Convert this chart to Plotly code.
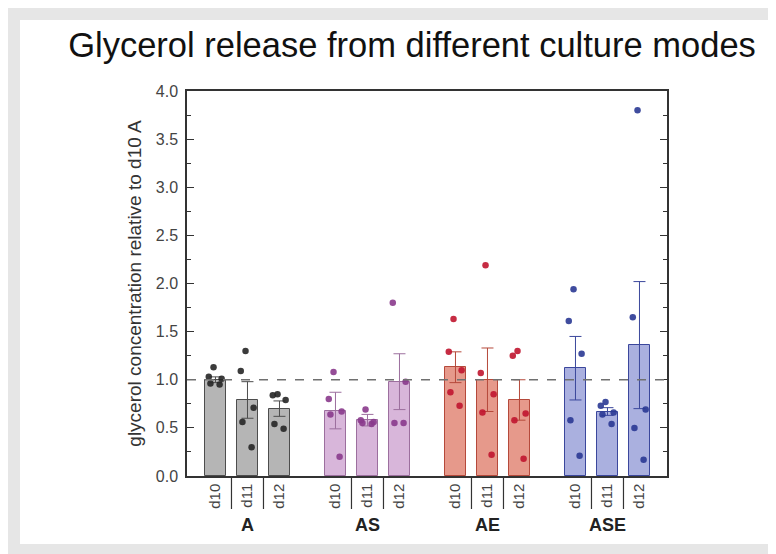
import plotly.graph_objects as go

groups = ["A", "AS", "AE", "ASE"]
days = ["d10", "d11", "d12"]

mean_A = [1.00, 0.79, 0.70]
mean_AS = [0.68, 0.58, 0.98]
mean_AE = [1.13, 1.00, 0.79]
mean_ASE = [1.12, 0.67, 1.36]

sem_A = [0.03, 0.19, 0.08]
sem_AS = [0.19, 0.06, 0.29]
sem_AE = [0.16, 0.33, 0.21]
sem_ASE = [0.33, 0.04, 0.66]

pts_A = [[1.13, 1.03, 1.01, 0.95, 0.96], [1.30, 1.09, 0.71, 0.56, 0.30], [0.84, 0.85, 0.79, 0.54, 0.49]]
pts_AS = [[1.08, 0.80, 0.67, 0.64, 0.20], [0.69, 0.58, 0.56, 0.54, 0.55], [1.80, 0.98, 0.55, 0.55]]
pts_AE = [[1.63, 1.29, 1.10, 0.87, 0.73], [2.19, 1.07, 0.85, 0.66, 0.22], [1.30, 1.25, 0.65, 0.58, 0.18]]
pts_ASE = [[1.94, 1.61, 1.27, 0.58, 0.21], [0.77, 0.73, 0.66, 0.64, 0.54], [3.80, 1.65, 0.69, 0.50, 0.17]]

yticks = [0.0, 0.5, 1.0, 1.5, 2.0, 2.5, 3.0, 3.5, 4.0]

means = [mean_A, mean_AS, mean_AE, mean_ASE]
sems = [sem_A, sem_AS, sem_AE, sem_ASE]
points = [pts_A, pts_AS, pts_AE, pts_ASE]

fills = ["#b5b5b5", "#d8b6da", "#e6998b", "#aab0df"]
edges = ["#4d4d4d", "#9c6f9e", "#b5493b", "#3b479c"]
dots = ["#262626", "#8a3a8c", "#c0152f", "#2a3894"]

W, H = 776, 554
L, R, T, B = 179, 659, 83, 468
GSTEP = 3.75


def px_x(px):
    return (px - L) / (R - L)


def px_y(py):
    return (B - py) / (B - T)


fig = go.Figure()
tickvals, ticktext = [], []
for g, name in enumerate(groups):
    xs = [1 + g * GSTEP + i for i in range(len(days))]
    tickvals += xs
    ticktext += days
    fig.add_trace(go.Bar(
        x=xs, y=means[g], width=0.66,
        marker=dict(color=fills[g], line=dict(color=edges[g], width=1)),
        error_y=dict(type="data", array=sems[g], color=edges[g], thickness=1, width=6),
        showlegend=False, hoverinfo="skip"))
    for i, vals in enumerate(points[g]):
        fig.add_trace(go.Box(
            x=[xs[i]] * len(vals), y=vals, boxpoints="all", jitter=0.9, pointpos=0,
            width=0.55, fillcolor="rgba(0,0,0,0)", line=dict(color="rgba(0,0,0,0)", width=0),
            whiskerwidth=0, marker=dict(color=dots[g], size=6.5, opacity=0.9),
            showlegend=False, hoverinfo="y"))
    for i in range(len(days) - 1):
        xm = xs[i] + 0.5
        fig.add_shape(type="line", xref="x", yref="paper", x0=xm, x1=xm,
                      y0=0, y1=px_y(501), line=dict(color="#333333", width=1.2))
    fig.add_annotation(x=xs[1], xref="x", y=px_y(517), yref="paper", text="<b>%s</b>" % name,
                       showarrow=False, font=dict(size=18, color="#222222"),
                       xanchor="center", yanchor="middle")

fig.add_shape(type="line", xref="paper", yref="y", x0=0, x1=1, y0=1.0, y1=1.0,
              line=dict(color="#707070", width=1.5, dash="dash"))

# white panel inside grey frame
fig.add_shape(type="rect", xref="paper", yref="paper", x0=px_x(12), x1=px_x(W), y0=px_y(536), y1=px_y(12),
              fillcolor="#ffffff", line=dict(width=0), layer="below")

fig.update_layout(
    width=W, height=H,
    margin=dict(l=L, r=W - R, t=T, b=H - B),
    paper_bgcolor="#e6e6e6", plot_bgcolor="rgba(0,0,0,0)",
    font=dict(family="Arial, Liberation Sans, sans-serif", color="#333333"),
    title=dict(text="Glycerol release from different culture modes", x=404 / W, xref="container",
               xanchor="center", y=1 - 37 / H, yref="container", yanchor="middle",
               font=dict(size=34.5, color="#111111")),
    boxmode="overlay", barmode="overlay", bargap=0,
    xaxis=dict(range=[0.11, 15.11], tickvals=tickvals, ticktext=ticktext, tickangle=-90,
               showgrid=False, zeroline=False, showline=True, linecolor="#333333", linewidth=1.5,
               mirror=True, ticks="", tickfont=dict(size=15, color="#444444")),
    yaxis=dict(range=[0, 4.0], tickvals=yticks, tickformat=".1f", showgrid=False, zeroline=False,
               showline=True, linecolor="#333333", linewidth=1.5, mirror="ticks",
               ticks="inside", ticklen=7, tickcolor="#333333", tickwidth=1,
               minor=dict(dtick=0.25, ticks="inside", ticklen=4, tickcolor="#333333", tickwidth=1, showgrid=False),
               tickfont=dict(size=16, color="#444444"), ticklabelstandoff=4,
               title=dict(text="glycerol concentration relative to d10 A", font=dict(size=19, color="#333333"),
                          standoff=9)),
)

fig.write_html("out.html")
